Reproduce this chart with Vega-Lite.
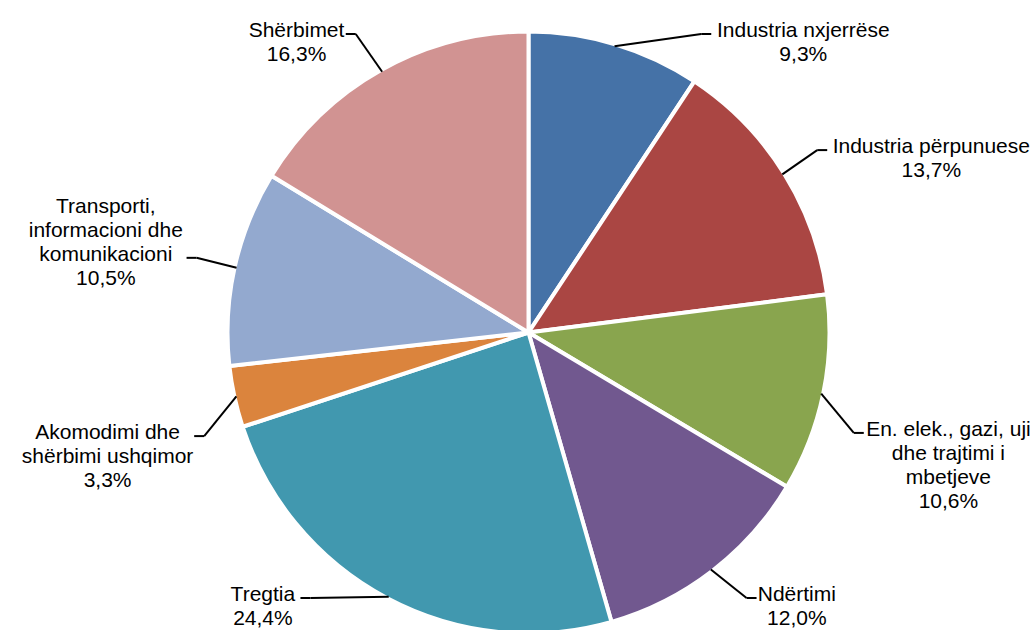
{
  "$schema": "https://vega.github.io/schema/vega-lite/v6.json",
  "width": 1034,
  "height": 630,
  "padding": 0,
  "autosize": {"type": "none"},
  "background": "white",
  "config": {"view": {"stroke": null}},
  "data": {
    "values": [
      {"o": 1, "sector": "Industria nxjerrëse", "pct": 9.3},
      {"o": 2, "sector": "Industria përpunuese", "pct": 13.7},
      {"o": 3, "sector": "En. elek., gazi, uji\ndhe trajtimi i\nmbetjeve", "pct": 10.6},
      {"o": 4, "sector": "Ndërtimi", "pct": 12.0},
      {"o": 5, "sector": "Tregtia", "pct": 24.4},
      {"o": 6, "sector": "Akomodimi dhe\nshërbimi ushqimor", "pct": 3.3},
      {"o": 7, "sector": "Transporti,\ninformacioni dhe\nkomunikacioni", "pct": 10.5},
      {"o": 8, "sector": "Shërbimet", "pct": 16.3}
    ]
  },
  "transform": [
    {"stack": "pct", "groupby": [], "sort": [{"field": "o", "order": "ascending"}], "as": ["c0", "c1"]},
    {"joinaggregate": [{"op": "sum", "field": "pct", "as": "tot"}]},
    {"calculate": "PI*(datum.c0+datum.c1)/datum.tot", "as": "th"},
    {"calculate": "sin(datum.th)", "as": "s"},
    {"calculate": "cos(datum.th)", "as": "c"},
    {"calculate": "datum.s>=0?1:-1", "as": "sg"},
    {"calculate": "299*datum.s", "as": "sx"},
    {"calculate": "299*datum.c", "as": "sy"},
    {"calculate": "clamp(345*datum.c-(datum.c<0?30:0),-265.5,298.5)", "as": "ey"},
    {"calculate": "datum.sg*sqrt(350*350-datum.ey*datum.ey)", "as": "ex"},
    {"calculate": "datum.ex-10*datum.sg", "as": "bx"},
    {"calculate": "datum.sector+'\\n'+replace(format(datum.pct,'.1f'),'.',',')+'%'", "as": "txt"},
    {"calculate": "split(datum.txt,'\\n')", "as": "ln"},
    {"calculate": "length(datum.ln)", "as": "n"},
    {"calculate": "21*(0.556*length(datum.ln[0])-0.296*(length(datum.ln[0])-length(replace(datum.ln[0],regexp('[Iiljtfr .,]','g'),''))))", "as": "w0"},
    {"calculate": "datum.n>1?21*(0.556*length(datum.ln[1])-0.296*(length(datum.ln[1])-length(replace(datum.ln[1],regexp('[Iiljtfr .,]','g'),'')))):0", "as": "w1"},
    {"calculate": "datum.n>2?21*(0.556*length(datum.ln[2])-0.296*(length(datum.ln[2])-length(replace(datum.ln[2],regexp('[Iiljtfr .,]','g'),'')))):0", "as": "w2"},
    {"calculate": "datum.n>3?21*(0.556*length(datum.ln[3])-0.296*(length(datum.ln[3])-length(replace(datum.ln[3],regexp('[Iiljtfr .,]','g'),'')))):0", "as": "w3"},
    {"calculate": "max(datum.w0,datum.w1,datum.w2,datum.w3)", "as": "mw"},
    {"calculate": "clamp(datum.ex+datum.sg*(6+datum.mw/2),-525.5+datum.mw/2,502.5-datum.mw/2)", "as": "tx"},
    {"calculate": "datum.ey-3+(datum.c>0?max(0,datum.n-2):0)*24", "as": "ty"}
  ],
  "layer": [
    {
      "mark": {"type": "arc", "outerRadius": 301, "stroke": "white", "strokeWidth": 4},
      "encoding": {
        "theta": {"field": "pct", "type": "quantitative", "stack": true},
        "order": {"field": "o", "type": "quantitative"},
        "color": {
          "field": "sector",
          "type": "nominal",
          "legend": null,
          "scale": {
            "domain": [
              "Industria nxjerrëse",
              "Industria përpunuese",
              "En. elek., gazi, uji\ndhe trajtimi i\nmbetjeve",
              "Ndërtimi",
              "Tregtia",
              "Akomodimi dhe\nshërbimi ushqimor",
              "Transporti,\ninformacioni dhe\nkomunikacioni",
              "Shërbimet"
            ],
            "range": ["#4572A7", "#AA4643", "#89A54E", "#71588F", "#4198AF", "#DB843D", "#93A9CF", "#D19392"]
          }
        },
        "x": {"datum": 0, "type": "quantitative", "scale": {"domain": [-528.5, 505.5], "nice": false, "zero": false}, "axis": null},
        "y": {"datum": 0, "type": "quantitative", "scale": {"domain": [-297.5, 332.5], "nice": false, "zero": false}, "axis": null}
      }
    },
    {
      "mark": {"type": "rule", "stroke": "black", "strokeWidth": 2},
      "encoding": {
        "x": {"field": "sx", "type": "quantitative"},
        "y": {"field": "sy", "type": "quantitative"},
        "x2": {"field": "bx"},
        "y2": {"field": "ey"}
      }
    },
    {
      "mark": {"type": "rule", "stroke": "black", "strokeWidth": 2},
      "encoding": {
        "x": {"field": "bx", "type": "quantitative"},
        "y": {"field": "ey", "type": "quantitative"},
        "x2": {"field": "ex"},
        "y2": {"field": "ey"}
      }
    },
    {
      "mark": {"type": "text", "font": "Liberation Sans", "fontSize": 21, "lineHeight": 24, "align": "center", "baseline": "alphabetic", "lineBreak": "\n", "color": "black"},
      "encoding": {
        "x": {"field": "tx", "type": "quantitative"},
        "y": {"field": "ty", "type": "quantitative"},
        "text": {"field": "txt", "type": "nominal"}
      }
    }
  ]
}
